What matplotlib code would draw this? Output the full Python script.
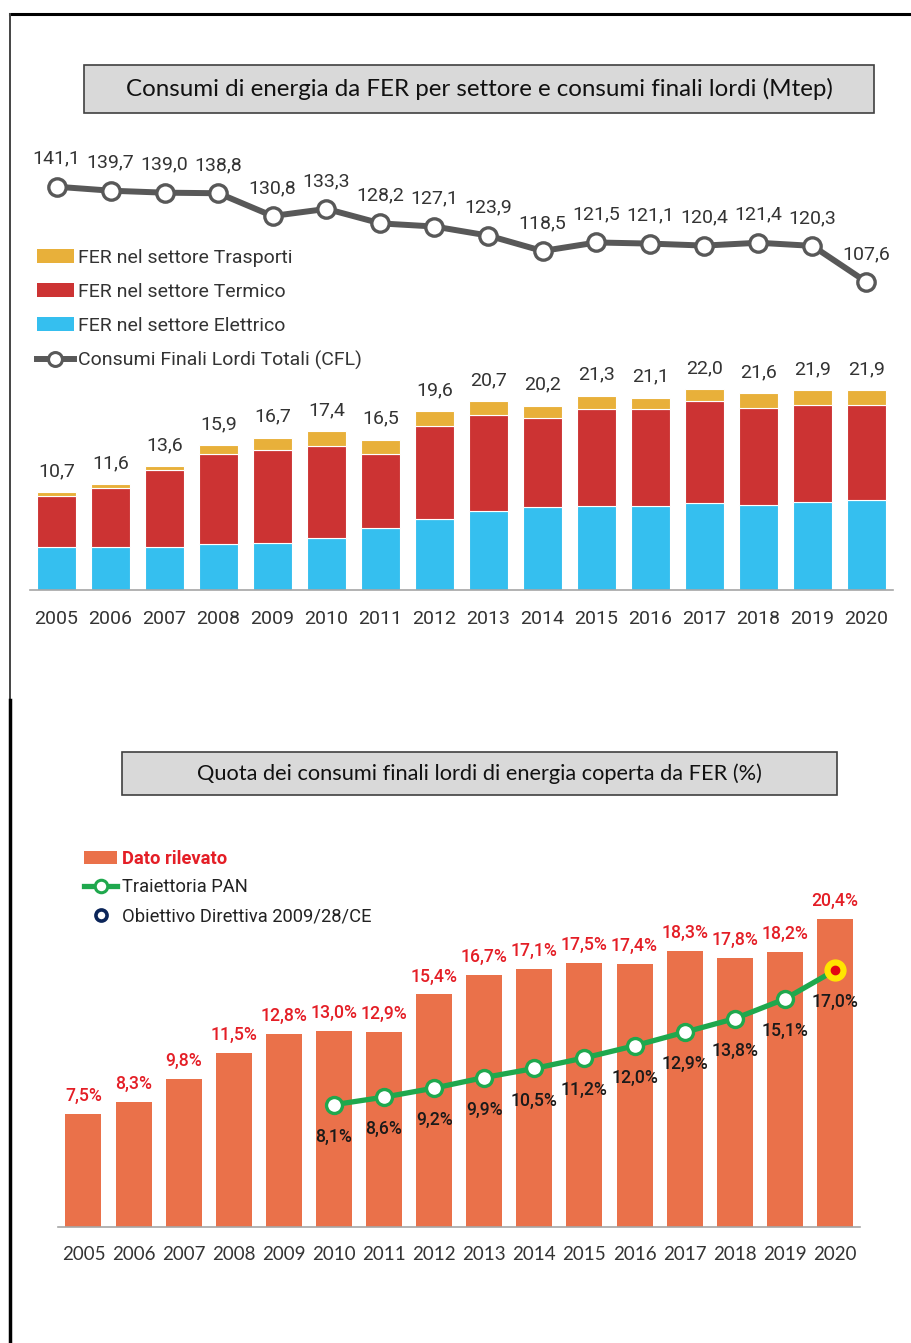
import matplotlib
matplotlib.use("Agg")
import matplotlib.pyplot as plt
from matplotlib.patches import Rectangle, Patch
from matplotlib.lines import Line2D

years = [str(y) for y in range(2005, 2021)]

# consumi di energia da FER per settore (Mtep)
fer_elettrico = [4.7, 4.7, 4.7, 5.0, 5.2, 5.7, 6.8, 7.8, 8.7, 9.1, 9.2, 9.2, 9.5, 9.3, 9.6, 9.9]
fer_termico = [5.6, 6.5, 8.5, 9.9, 10.2, 10.1, 8.1, 10.2, 10.5, 9.8, 10.7, 10.6, 11.2, 10.7, 10.7, 10.4]
fer_trasporti = [0.4, 0.4, 0.4, 1.0, 1.3, 1.6, 1.6, 1.6, 1.5, 1.3, 1.4, 1.3, 1.3, 1.6, 1.6, 1.6]
fer_totale = [10.7, 11.6, 13.6, 15.9, 16.7, 17.4, 16.5, 19.6, 20.7, 20.2, 21.3, 21.1, 22.0, 21.6, 21.9, 21.9]
# consumi finali lordi totali (Mtep)
cfl = [141.1, 139.7, 139.0, 138.8, 130.8, 133.3, 128.2, 127.1, 123.9, 118.5,
       121.5, 121.1, 120.4, 121.4, 120.3, 107.6]

# quota dei CFL coperta da FER (%)
quota_rilevata = [7.5, 8.3, 9.8, 11.5, 12.8, 13.0, 12.9, 15.4, 16.7, 17.1,
                  17.5, 17.4, 18.3, 17.8, 18.2, 20.4]
pan_years = years[5:]
pan_traiettoria = [8.1, 8.6, 9.2, 9.9, 10.5, 11.2, 12.0, 12.9, 13.8, 15.1, 17.0]
obiettivo_year = "2020"
obiettivo_valore = 17.0

W, H = 911, 1343
DPI = 100

C_ELE = '#35bfef'
C_TER = '#cc3333'
C_TRA = '#e8b03a'
C_CFL = '#585858'
C_BAR2 = '#ea714a'
C_RED = '#e41e26'
C_PAN = '#1fa84d'
C_TXT = '#333333'

FONT = ['Roboto', 'DejaVu Sans']
FONT_T = ['Lato', 'DejaVu Sans']


def fbox(x0, y0, x1, y1):
    # pixel box (from top-left) -> figure fraction [left, bottom, w, h]
    return [x0 / W, 1 - y1 / H, (x1 - x0) / W, (y1 - y0) / H]


def px2pt(p):
    return p * 72.0 / DPI


def fmt(v, pct=False):
    s = f"{v:.1f}".replace('.', ',')
    return s + '%' if pct else s


def title_box(fig, x0, y0, x1, y1, text, size):
    fig.add_artist(Rectangle((x0 / W, 1 - y1 / H), (x1 - x0) / W, (y1 - y0) / H,
                             transform=fig.transFigure, facecolor='#d9d9d9',
                             edgecolor='#404040', lw=1.2))
    fig.text((x0 + x1) / 2 / W, 1 - (y0 + y1) / 2 / H, text, ha='center', va='center',
             fontsize=size, family=FONT_T, color='#111111')


fig = plt.figure(figsize=(W / DPI, H / DPI), dpi=DPI)
fig.patch.set_facecolor('white')

# page frame
fig.add_artist(Line2D([10 / W, 1], [1 - 14 / H] * 2, transform=fig.transFigure,
                      color='black', lw=2.2))
fig.add_artist(Line2D([10 / W] * 2, [1 - 14 / H, 1 - 700 / H], transform=fig.transFigure,
                      color='#444444', lw=1.4))
fig.add_artist(Line2D([10 / W] * 2, [1 - 700 / H, 0], transform=fig.transFigure,
                      color='black', lw=2.5))

# ---------------- top chart ----------------
title_box(fig, 84, 65, 874, 113,
          "Consumi di energia da FER per settore e consumi finali lordi (Mtep)", 17.4)

top_y0, top_base = 140, 590
bar_scale = 9.12      # px per Mtep
line_scale = 2.845    # px per Mtep (CFL)
ax1 = fig.add_axes(fbox(29.5, top_y0, 893.5, top_base))
x = list(range(len(years)))
bw = 0.72
ax1.bar(x, fer_elettrico, bw, color=C_ELE, edgecolor='white', lw=0.8)
ax1.bar(x, fer_termico, bw, bottom=fer_elettrico, color=C_TER, edgecolor='white', lw=0.8)
bottom3 = [a + b for a, b in zip(fer_elettrico, fer_termico)]
ax1.bar(x, fer_trasporti, bw, bottom=bottom3, color=C_TRA, edgecolor='white', lw=0.8)
ax1.set_xlim(-0.5, len(years) - 0.5)
ax1.set_ylim(0, (top_base - top_y0) / bar_scale)
for i, v in enumerate(fer_totale):
    ax1.annotate(fmt(v), (i, v), xytext=(0, px2pt(21)), textcoords='offset points',
                 ha='center', va='center', fontsize=14, family=FONT, color=C_TXT)
ax1.set_xticks(x)
ax1.set_xticklabels(years, fontsize=14, family=FONT, color=C_TXT)
ax1.tick_params(axis='x', length=0, pad=px2pt(20))
ax1.set_yticks([])
for s in ['top', 'right', 'left']:
    ax1.spines[s].set_visible(False)
ax1.spines['bottom'].set_color('#a6a6a6')
ax1.spines['bottom'].set_linewidth(1.2)
ax1.patch.set_alpha(0)

ax1b = ax1.twinx()
ref = cfl[0]
ref_px = 186.7
ax1b.set_ylim(ref - (top_base - ref_px) / line_scale, ref + (ref_px - top_y0) / line_scale)
ax1b.plot(x, cfl, color=C_CFL, lw=4.3, marker='o', ms=12.5, mfc='white',
          mec=C_CFL, mew=2.4, solid_joinstyle='round')
for i, v in enumerate(cfl):
    ax1b.annotate(fmt(v), (i, v), xytext=(0, px2pt(28)), textcoords='offset points',
                  ha='center', va='center', fontsize=14, family=FONT, color=C_TXT)
ax1b.set_yticks([])
ax1b.set_axis_off()

leg1_handles = [
    Patch(facecolor=C_TRA, label='FER nel settore Trasporti'),
    Patch(facecolor=C_TER, label='FER nel settore Termico'),
    Patch(facecolor=C_ELE, label='FER nel settore Elettrico'),
    Line2D([], [], color=C_CFL, lw=4.3, marker='o', ms=10, mfc='white', mec=C_CFL,
           mew=2.2, label='Consumi Finali Lordi Totali (CFL)'),
]
leg1 = ax1b.legend(handles=leg1_handles, loc='upper left',
                   bbox_to_anchor=(37 / W, 1 - 249 / H), bbox_transform=fig.transFigure,
                   frameon=False, borderpad=0, borderaxespad=0, handlelength=1.88,
                   handletextpad=0.22, labelspacing=0.82,
                   prop={'family': FONT, 'size': 14})
for t in leg1.get_texts():
    t.set_color(C_TXT)

# ---------------- bottom chart ----------------
title_box(fig, 122, 752, 837, 795,
          "Quota dei consumi finali lordi di energia coperta da FER (%)", 15.7)

bot_y0, bot_base = 830, 1227
pct_scale = 15.1
ax2 = fig.add_axes(fbox(58.4, bot_y0, 860, bot_base))
ax2.bar(x, quota_rilevata, bw, color=C_BAR2)
ax2.set_xlim(-0.5, len(years) - 0.5)
ax2.set_ylim(0, (bot_base - bot_y0) / pct_scale)
for i, v in enumerate(quota_rilevata):
    ax2.annotate(fmt(v, True), (i, v), xytext=(0, px2pt(18)), textcoords='offset points',
                 ha='center', va='center', fontsize=12.7, family=FONT, color=C_RED,
                 fontweight='medium')
px_pan = [years.index(y) for y in pan_years]
ax2.plot(px_pan, pan_traiettoria, color=C_PAN, lw=3.8, marker='o', ms=11.5, mfc='white',
         mec=C_PAN, mew=2.4, zorder=3)
for i, v in zip(px_pan, pan_traiettoria):
    ax2.annotate(fmt(v, True), (i, v), xytext=(0, -px2pt(32)), textcoords='offset points',
                 ha='center', va='center', fontsize=12.7, family=FONT, color='#1a1a1a',
                 fontweight='medium')
ix_obj = years.index(obiettivo_year)
ax2.plot([ix_obj], [obiettivo_valore], marker='o', ms=15, mfc='#ffe600', mec='#ffe600',
         zorder=4, linestyle='none')
ax2.plot([ix_obj], [obiettivo_valore], marker='o', ms=6, mfc='#e30613', mec='#e30613',
         zorder=5, linestyle='none')
ax2.set_xticks(x)
ax2.set_xticklabels(years, fontsize=13.5, family=FONT_T, color=C_TXT)
ax2.tick_params(axis='x', length=0, pad=px2pt(19))
ax2.set_yticks([])
for s in ['top', 'right', 'left']:
    ax2.spines[s].set_visible(False)
ax2.spines['bottom'].set_color('#a6a6a6')
ax2.spines['bottom'].set_linewidth(1.2)
ax2.patch.set_alpha(0)

leg2_handles = [
    Patch(facecolor=C_BAR2, label='Dato rilevato'),
    Line2D([], [], color=C_PAN, lw=3.8, marker='o', ms=9, mfc='white', mec=C_PAN,
           mew=2.2, label='Traiettoria PAN'),
    Line2D([], [], color='none', marker='o', ms=8, mfc='white', mec='#0b2559',
           mew=2.6, label='Obiettivo Direttiva 2009/28/CE'),
]
leg2 = ax2.legend(handles=leg2_handles, loc='upper left',
                  bbox_to_anchor=(84 / W, 1 - 849.5 / H), bbox_transform=fig.transFigure,
                  frameon=False, borderpad=0, borderaxespad=0, handlelength=1.8,
                  handletextpad=0.25, labelspacing=0.6,
                  prop={'family': FONT, 'size': 13.2})
for t, c in zip(leg2.get_texts(), [C_RED, '#222222', '#222222']):
    t.set_color(c)
leg2.get_texts()[0].set_fontweight('bold')

fig.savefig('out.png', dpi=DPI, facecolor='white')
